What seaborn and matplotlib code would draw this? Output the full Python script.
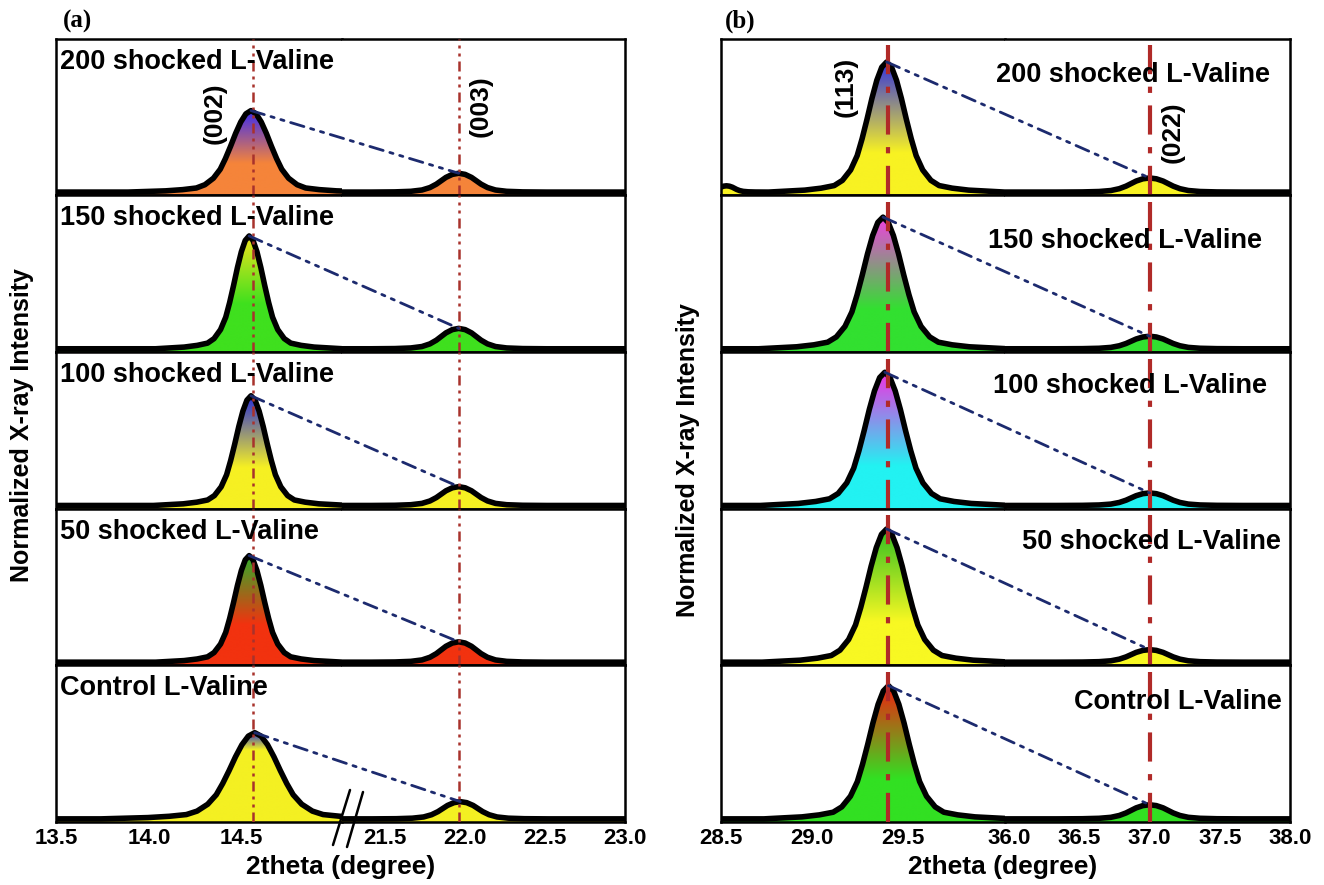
import numpy as np
import pandas as pd
import matplotlib
matplotlib.use("Agg")
import matplotlib.pyplot as plt
import seaborn as sns
from matplotlib.patches import ConnectionPatch
from matplotlib.lines import Line2D
from matplotlib.colors import to_rgb

sns.set_theme(style="white")
plt.rcParams["font.family"] = ["Liberation Sans", "DejaVu Sans"]
plt.rcParams["font.weight"] = "bold"
plt.rcParams["text.color"] = "black"
plt.rcParams["xtick.color"] = "black"
plt.rcParams["axes.labelcolor"] = "black"

# ---------------- data ----------------
samples = ["200 shocked L-Valine", "150 shocked L-Valine", "100 shocked L-Valine",
           "50 shocked L-Valine", "Control L-Valine"]

# shared peak shapes (offset in degree, normalised intensity)
main_offsets = [-0.72, -0.50, -0.40, -0.32, -0.27, -0.22, -0.18, -0.15, -0.12, -0.09, -0.06, -0.03, 0.0,
                0.03, 0.06, 0.09, 0.12, 0.15, 0.18, 0.22, 0.27, 0.32, 0.40, 0.50, 0.72]
main_profile = [0.0, 0.015, 0.03, 0.05, 0.09, 0.17, 0.28, 0.41, 0.56, 0.72, 0.86, 0.96, 1.0,
                0.96, 0.86, 0.72, 0.56, 0.41, 0.28, 0.17, 0.09, 0.05, 0.03, 0.015, 0.0]
small_offsets = [-0.55, -0.40, -0.30, -0.23, -0.18, -0.14, -0.11, -0.08, -0.04, 0.0,
                 0.04, 0.08, 0.11, 0.14, 0.18, 0.23, 0.30, 0.40, 0.55]
small_profile = [0.0, 0.01, 0.04, 0.11, 0.24, 0.42, 0.60, 0.78, 0.94, 1.0,
                 0.94, 0.78, 0.60, 0.42, 0.24, 0.11, 0.04, 0.01, 0.0]
baseline = 0.02

# panel (a)
a_xlim_left = (13.5, 15.04)
a_xlim_right = (21.23, 23.0)
a_ticks_left = [13.5, 14.0, 14.5]
a_ticks_right = [21.5, 22.0, 22.5, 23.0]
a_ref_lines = [14.56, 21.96]
a_hkl = ["(002)", "(003)"]
a_main_pos = [14.55, 14.54, 14.55, 14.54, 14.57]
a_main_height = [0.52, 0.72, 0.70, 0.68, 0.55]
a_main_width = [0.92, 0.70, 0.73, 0.70, 1.15]
a_small_pos = [21.96, 21.96, 21.96, 21.96, 21.97]
a_small_height = [0.12, 0.13, 0.12, 0.13, 0.11]
a_small_width = [1.0, 1.0, 1.0, 1.0, 1.0]
a_top_colors = ["#3b2cf2", "#f0e41c", "#2a30d8", "#2fae2a", "#2a3ac8"]
a_bottom_colors = ["#f5843a", "#3fe01e", "#f6f022", "#f2320f", "#f4f022"]
a_blend = [0.35, 0.40, 0.35, 0.35, 0.80]

# panel (b)
b_xlim_left = (28.5, 30.06)
b_xlim_right = (35.97, 38.0)
b_ticks_left = [28.5, 29.0, 29.5]
b_ticks_right = [36.0, 36.5, 37.0, 37.5, 38.0]
b_ref_lines = [29.42, 37.0]
b_hkl = ["(113)", "(022)"]
b_main_pos = [29.41, 29.39, 29.40, 29.41, 29.42]
b_main_height = [0.83, 0.84, 0.85, 0.85, 0.85]
b_main_width = [0.90, 0.95, 0.95, 0.95, 0.95]
b_small_pos = [37.0, 37.0, 37.0, 37.0, 37.0]
b_small_height = [0.09, 0.08, 0.08, 0.08, 0.09]
b_small_width = [1.2, 1.2, 1.2, 1.2, 1.2]
b_top_colors = ["#3232e0", "#f040e0", "#f032e2", "#32c022", "#f22010"]
b_bottom_colors = ["#f8f222", "#32e030", "#22f2f2", "#f8f822", "#32e022"]
b_blend = [0.30, 0.30, 0.30, 0.30, 0.30]
# small shoulder at the left edge of the 200-shot (b) pattern
b_edge_pos, b_edge_height, b_edge_width = 28.53, 0.04, 0.40

W, H = 1324, 885
fig = plt.figure(figsize=(W / 100, H / 100), dpi=100)


def fx(px):
    return px / W


def fy(py):
    return 1 - py / H


top_px, bot_px = 38.5, 822.0
row_h = (bot_px - top_px) / 5


def peak_points(pos, height, width, offsets, profile):
    xs = pos + width * np.asarray(offsets)
    ys = baseline + height * np.asarray(profile)
    return xs, ys


def segment_curve(xlim, peaks):
    xs_all = [xlim[0] - 0.3]
    ys_all = [baseline]
    for p in peaks:
        xs, ys = peak_points(*p)
        xs_all.extend(xs)
        ys_all.extend(ys)
    xs_all.append(max(xlim[1], xs_all[-1]) + 0.05)
    ys_all.append(baseline)
    return np.array(xs_all), np.array(ys_all)


def gradient_image(top, bottom, h, blend, n=300):
    yy = np.linspace(0, 1, n)
    t = np.clip((yy - baseline - blend * h) / ((1 - blend) * h), 0, 1)
    c0 = np.array(to_rgb(bottom))
    c1 = np.array(to_rgb(top))
    cols = c0[None, :] * (1 - t[:, None]) + c1[None, :] * t[:, None]
    return cols[:, None, :]


def draw_segment(ax, xlim, x, y, img):
    poly = ax.fill_between(x, 0, y, facecolor="none", edgecolor="none")
    im = ax.imshow(img, extent=(xlim[0] - 0.4, xlim[1] + 0.1, 0, 1), origin="lower",
                   aspect="auto", interpolation="bilinear", zorder=1)
    im.set_clip_path(poly.get_paths()[0], transform=ax.transData)
    df = pd.DataFrame({"x": x, "y": y})
    sns.lineplot(data=df, x="x", y="y", ax=ax, color="black", lw=4.0, sort=True,
                 estimator=None, legend=False, zorder=3)
    ax.set_xlim(*xlim)
    ax.set_ylim(0, 1)


def make_panel(p):
    axes = []
    for i in range(5):
        y0 = fy(top_px + (i + 1) * row_h)
        hh = row_h / H
        axL = fig.add_axes([fx(p["left"]), y0, fx(p["split"] - p["left"]), hh])
        axR = fig.add_axes([fx(p["split"]), y0, fx(p["right"] - p["split"]), hh])
        peaksL = [(p["main_pos"][i], p["main_height"][i], p["main_width"][i], main_offsets, main_profile)]
        if p.get("edge") is not None and i == 0:
            peaksL = [p["edge"]] + peaksL
        peaksR = [(p["small_pos"][i], p["small_height"][i], p["small_width"][i], small_offsets, small_profile)]
        img = gradient_image(p["top"][i], p["bottom"][i], p["main_height"][i], p["blend"][i])
        xL, yL = segment_curve(p["xl"], peaksL)
        xR, yR = segment_curve(p["xr"], peaksR)
        draw_segment(axL, p["xl"], xL, yL, img)
        draw_segment(axR, p["xr"], xR, yR, img)
        for ax in (axL, axR):
            ax.set_xlabel("")
            ax.set_ylabel("")
            ax.set_yticks([])
            ax.tick_params(axis="x", length=0, pad=4, labelsize=16, labelcolor="black")
            for s in ax.spines.values():
                s.set_color("black")
                s.set_linewidth(1.8)
        axL.spines["right"].set_visible(False)
        axR.spines["left"].set_visible(False)
        if i < 4:
            axL.set_xticks([])
            axR.set_xticks([])
        else:
            axL.set_xticks(p["ticks_l"])
            axL.set_xticklabels([f"{t:.1f}" for t in p["ticks_l"]], fontweight="bold")
            axR.set_xticks(p["ticks_r"])
            axR.set_xticklabels([f"{t:.1f}" for t in p["ticks_r"]], fontweight="bold")
        axL.axvline(p["lines"][0], color=p["vcolor"], lw=p["vlw"], ls=p["vls"], zorder=5)
        axR.axvline(p["lines"][1], color=p["vcolor"], lw=p["vlw"], ls=p["vls"], zorder=5)
        con = ConnectionPatch(xyA=(p["main_pos"][i], baseline + p["main_height"][i]), coordsA=axL.transData,
                              xyB=(p["small_pos"][i], baseline + p["small_height"][i]), coordsB=axR.transData,
                              color="#1c2a6e", lw=2.0, linestyle=(0, (5, 2.5, 1.2, 2.5, 1.2, 2.5)), zorder=6)
        fig.add_artist(con)
        axes.append((axL, axR))
    return axes


panel_a = dict(left=56, split=342, right=625, xl=a_xlim_left, xr=a_xlim_right,
               ticks_l=a_ticks_left, ticks_r=a_ticks_right, lines=a_ref_lines,
               main_pos=a_main_pos, main_height=a_main_height, main_width=a_main_width,
               small_pos=a_small_pos, small_height=a_small_height, small_width=a_small_width,
               top=a_top_colors, bottom=a_bottom_colors, blend=a_blend, edge=None,
               vcolor="#a8322c", vlw=1.8, vls=(0, (4, 2, 1.2, 2, 1.2, 2)))
panel_b = dict(left=721, split=1005, right=1290, xl=b_xlim_left, xr=b_xlim_right,
               ticks_l=b_ticks_left, ticks_r=b_ticks_right, lines=b_ref_lines,
               main_pos=b_main_pos, main_height=b_main_height, main_width=b_main_width,
               small_pos=b_small_pos, small_height=b_small_height, small_width=b_small_width,
               top=b_top_colors, bottom=b_bottom_colors, blend=b_blend,
               edge=(b_edge_pos, b_edge_height, b_edge_width, small_offsets, small_profile),
               vcolor="#b02a28", vlw=3.0, vls=(0, (7, 3, 1.5, 3)))

axes_a = make_panel(panel_a)
axes_b = make_panel(panel_b)

# sample labels
lab_fs = 19.5
for i, name in enumerate(samples):
    axes_a[i][0].text(0.014, 0.853, name, transform=axes_a[i][0].transAxes, ha="left", va="center",
                      fontsize=lab_fs, fontweight="bold", color="black", zorder=10)
b_lab_x = [0.93, 0.90, 0.92, 0.968, 0.972]
b_lab_y = [0.77, 0.706, 0.783, 0.79, 0.764]
for i, name in enumerate(samples):
    axes_b[i][1].text(b_lab_x[i], b_lab_y[i], name, transform=axes_b[i][1].transAxes, ha="right",
                      va="center", fontsize=lab_fs, fontweight="bold", color="black", zorder=10)

# hkl labels
hkl_fs = 19
axes_a[0][0].text(14.355, 0.523, a_hkl[0], transform=axes_a[0][0].get_xaxis_transform(), rotation=90,
                  ha="center", va="center", fontsize=hkl_fs, fontweight="bold")
axes_a[0][1].text(22.10, 0.568, a_hkl[1], transform=axes_a[0][1].get_xaxis_transform(), rotation=90,
                  ha="center", va="center", fontsize=hkl_fs, fontweight="bold")
axes_b[0][0].text(29.187, 0.69, b_hkl[0], transform=axes_b[0][0].get_xaxis_transform(), rotation=90,
                  ha="center", va="center", fontsize=hkl_fs, fontweight="bold")
axes_b[0][1].text(37.166, 0.40, b_hkl[1], transform=axes_b[0][1].get_xaxis_transform(), rotation=90,
                  ha="center", va="center", fontsize=hkl_fs, fontweight="bold", zorder=10)

# axis titles
fig.text(fx(22), fy(425), "Normalized X-ray Intensity", rotation=90, ha="center", va="center",
         fontsize=18, fontweight="bold")
fig.text(fx(688), fy(460), "Normalized X-ray Intensity", rotation=90, ha="center", va="center",
         fontsize=18, fontweight="bold")
fig.text(fx(341), fy(867), "2theta (degree)", ha="center", va="center", fontsize=19, fontweight="bold")
fig.text(fx(1003), fy(867), "2theta (degree)", ha="center", va="center", fontsize=19, fontweight="bold")

# panel letters
fig.text(fx(78), fy(21), "(a)", ha="center", va="center", fontsize=18, fontweight="bold",
         family=["Liberation Serif", "DejaVu Serif"])
fig.text(fx(740), fy(21), "(b)", ha="center", va="center", fontsize=18, fontweight="bold",
         family=["Liberation Serif", "DejaVu Serif"])

# axis break mark for panel (a)
for (x1, y1, x2, y2) in [(350, 790, 333, 845), (363, 792, 347, 847)]:
    fig.add_artist(Line2D([fx(x1), fx(x2)], [fy(y1), fy(y2)], color="black", lw=1.8,
                          transform=fig.transFigure))

fig.savefig("out.png", dpi=100, facecolor="white")
